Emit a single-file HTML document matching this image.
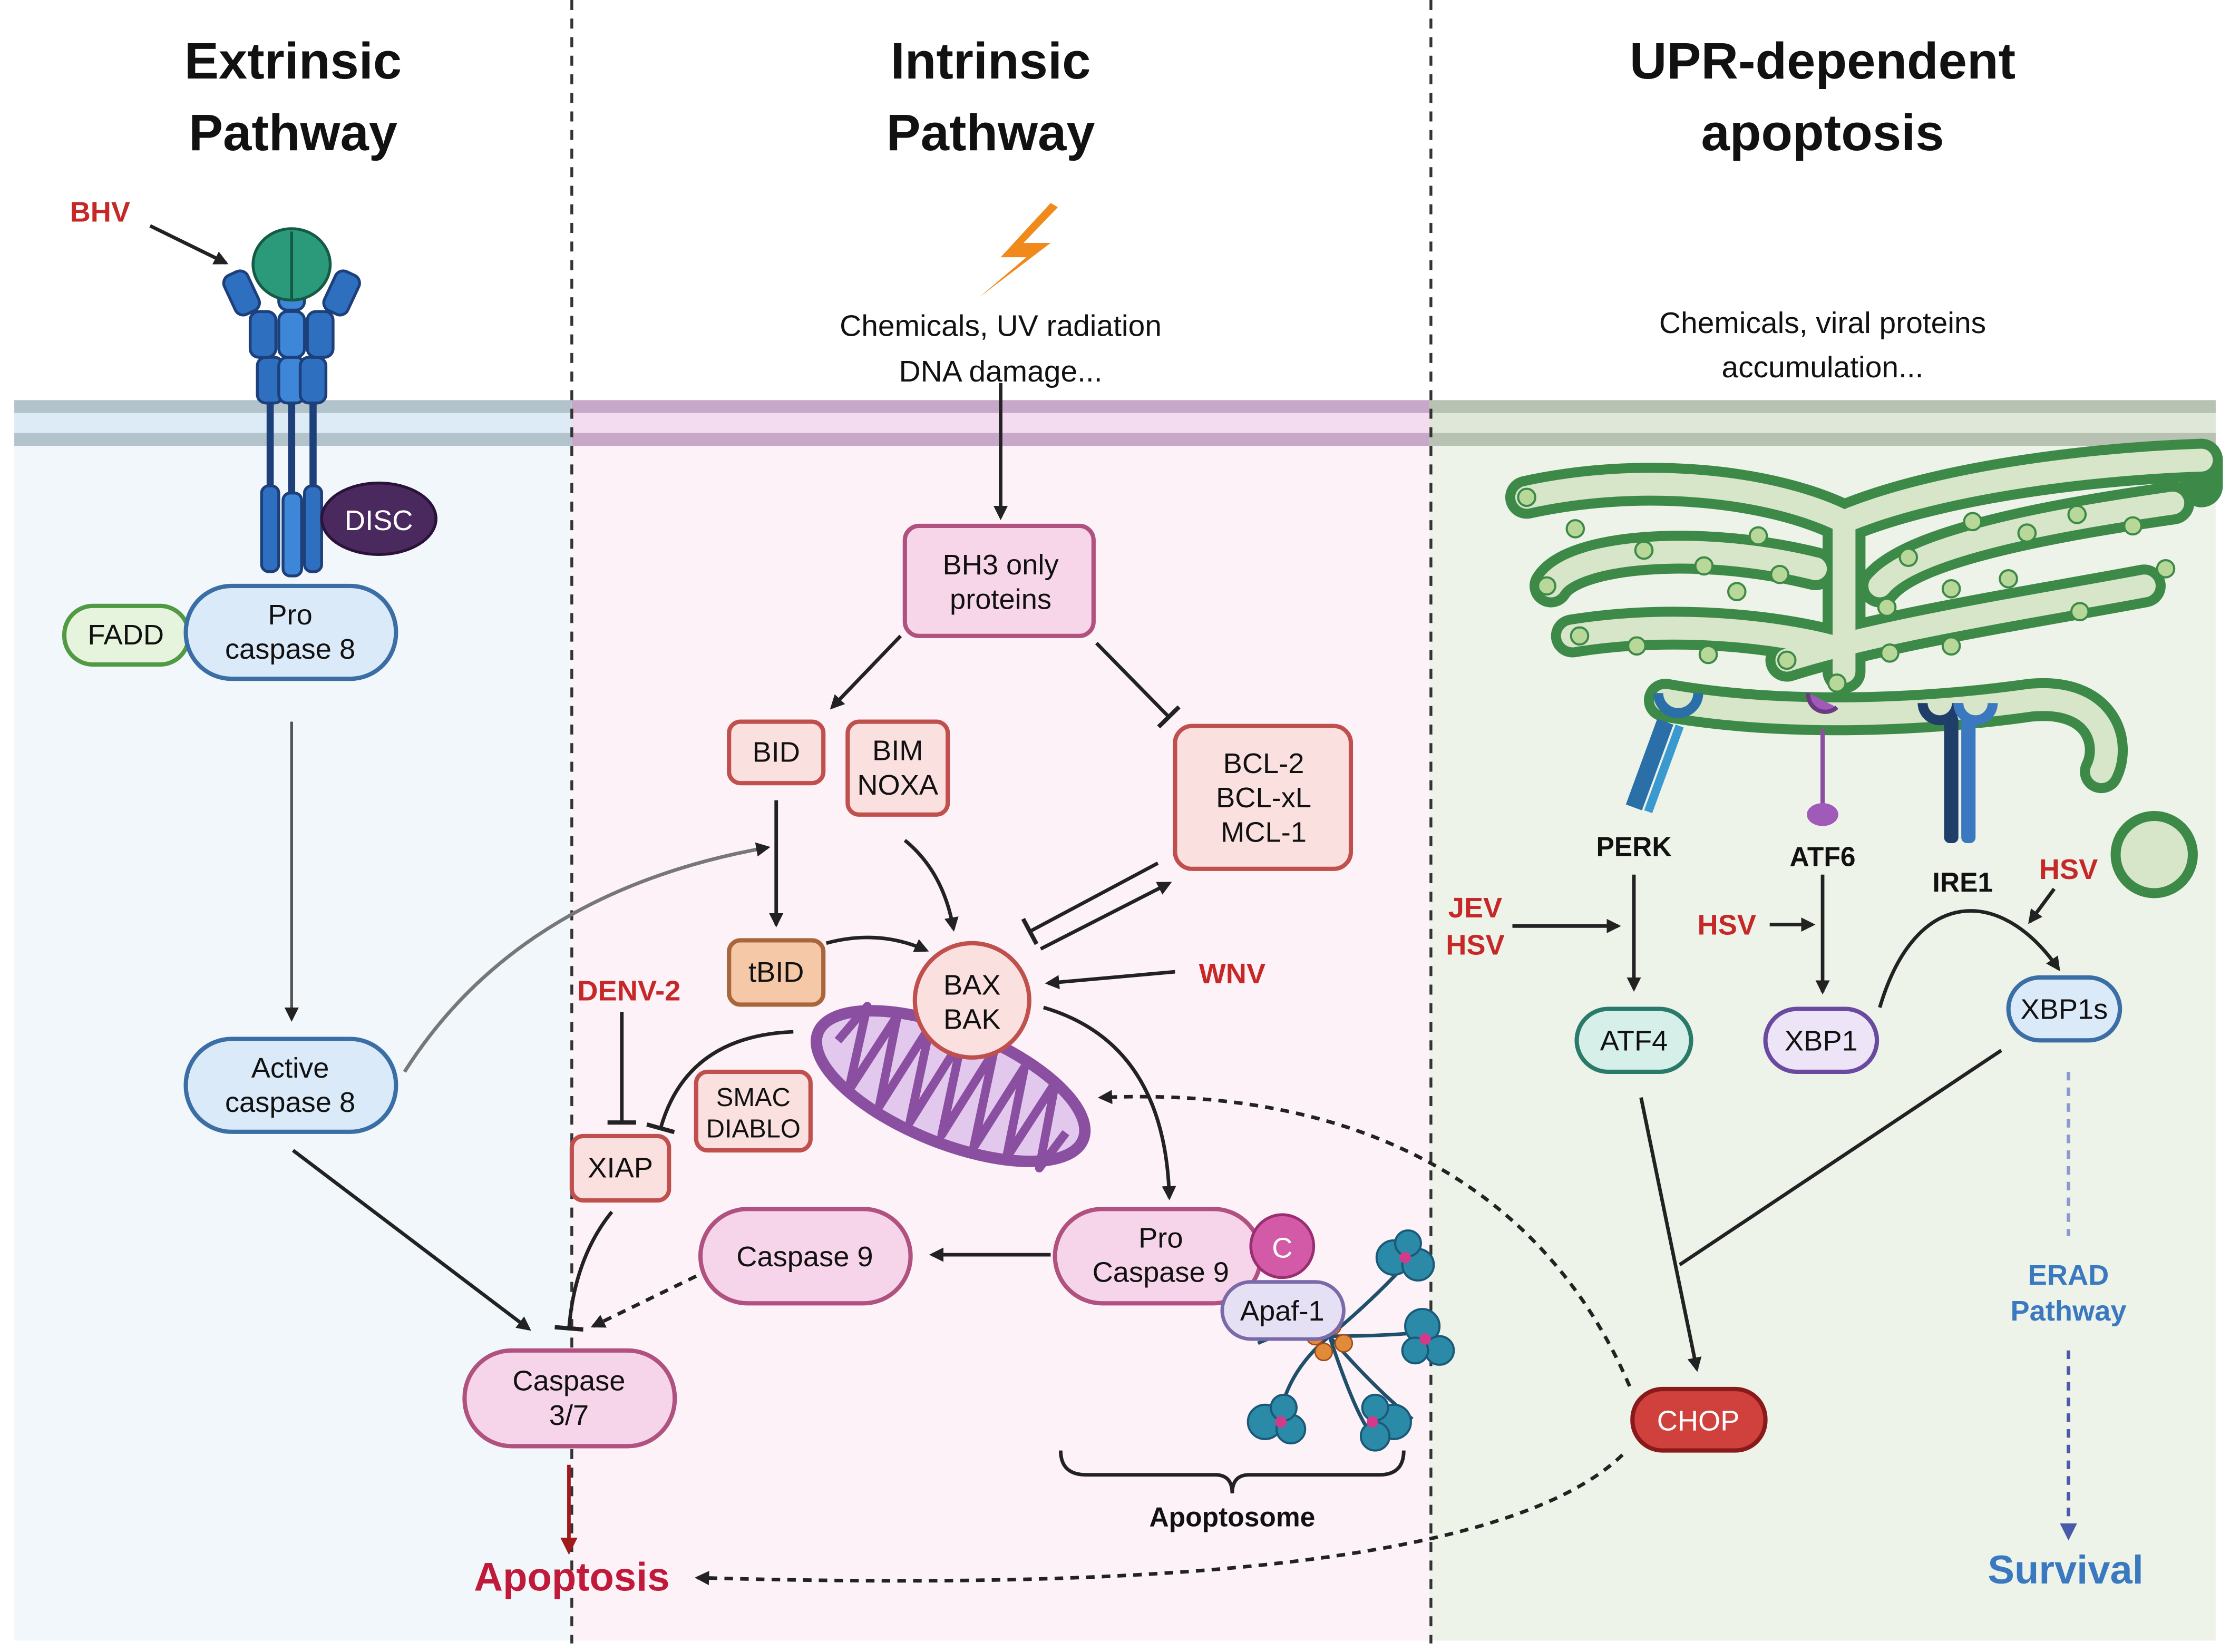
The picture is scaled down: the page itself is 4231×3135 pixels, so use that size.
<!DOCTYPE html>
<html><head><meta charset="utf-8">
<style>
html,body{margin:0;padding:0;background:#fff;}
svg{display:block;}
text{font-family:"Liberation Sans",Arial,sans-serif;}
</style></head>
<body>
<svg width="4231" height="3135" viewBox="0 0 1560 1156" preserveAspectRatio="none" xmlns="http://www.w3.org/2000/svg">
<defs>
<marker id="a" markerWidth="10" markerHeight="10" refX="8" refY="5" orient="auto" markerUnits="userSpaceOnUse"><path d="M0,0 L10,5 L0,10 z" fill="#222"/></marker>
<marker id="ar" markerWidth="12" markerHeight="12" refX="9" refY="6" orient="auto" markerUnits="userSpaceOnUse"><path d="M0,0 L12,6 L0,12 z" fill="#a01a1a"/></marker>
<marker id="ab" markerWidth="12" markerHeight="12" refX="9" refY="6" orient="auto" markerUnits="userSpaceOnUse"><path d="M0,0 L12,6 L0,12 z" fill="#4a5aa8"/></marker>
<marker id="t" markerWidth="4" markerHeight="20" refX="2" refY="10" orient="auto" markerUnits="userSpaceOnUse"><rect x="0" y="0" width="3" height="20" fill="#222"/></marker>
<linearGradient id="fadeL" x1="0" y1="0" x2="1" y2="0"><stop offset="0" stop-color="#ccc"/><stop offset="1" stop-color="#222"/></linearGradient>
</defs>

<!-- backgrounds -->
<rect x="10" y="312" width="390" height="836" fill="#f2f7fc"/>
<rect x="400" y="312" width="600" height="836" fill="#fdf2f8"/>
<rect x="1000" y="312" width="550" height="836" fill="#eef3ea"/>
<!-- membranes -->
<rect x="10" y="280" width="390" height="32" fill="#dcebf6"/>
<rect x="10" y="280" width="390" height="9" fill="#b3c3cc"/>
<rect x="10" y="303" width="390" height="9" fill="#b3c3cc"/>
<rect x="400" y="280" width="600" height="32" fill="#f3dcef"/>
<rect x="400" y="280" width="600" height="9" fill="#c8a8c8"/>
<rect x="400" y="303" width="600" height="9" fill="#c8a8c8"/>
<rect x="1000" y="280" width="550" height="32" fill="#dfe7d9"/>
<rect x="1000" y="280" width="550" height="9" fill="#b8c2b2"/>
<rect x="1000" y="303" width="550" height="9" fill="#b8c2b2"/>

<line x1="400" y1="0" x2="400" y2="1150" stroke="#333" stroke-width="2" stroke-dasharray="7,6"/>
<line x1="1001" y1="0" x2="1001" y2="1150" stroke="#333" stroke-width="2" stroke-dasharray="7,6"/>

<!-- titles -->
<g font-weight="bold" font-size="36" text-anchor="middle" fill="#111">
<text x="205" y="55">Extrinsic</text><text x="205" y="105">Pathway</text>
<text x="693" y="55">Intrinsic</text><text x="693" y="105">Pathway</text>
<text x="1275" y="55">UPR-dependent</text><text x="1275" y="105">apoptosis</text>
</g>

<!-- receptor -->
<g stroke="#1d3f7a" stroke-width="2" fill="#2f6fc0">
<rect x="183" y="340" width="12" height="60" rx="5"/>
<rect x="198" y="345" width="13" height="58" rx="5" fill="#3d86d8"/>
<rect x="213" y="340" width="12" height="60" rx="5"/>
<line x1="189" y1="280" x2="189" y2="340" stroke-width="5"/>
<line x1="204" y1="280" x2="204" y2="345" stroke-width="5"/>
<line x1="219" y1="280" x2="219" y2="340" stroke-width="5"/>
<rect x="180" y="250" width="18" height="32" rx="6"/>
<rect x="195" y="250" width="18" height="32" rx="6" fill="#3d86d8"/>
<rect x="210" y="250" width="18" height="32" rx="6"/>
<rect x="175" y="218" width="18" height="32" rx="6"/>
<rect x="195" y="218" width="18" height="32" rx="6" fill="#3d86d8"/>
<rect x="215" y="218" width="18" height="32" rx="6"/>
<rect x="160" y="190" width="18" height="30" rx="6" transform="rotate(-25 169 205)"/>
<rect x="230" y="190" width="18" height="30" rx="6" transform="rotate(25 239 205)"/>
<rect x="195" y="185" width="18" height="32" rx="6" fill="#3d86d8"/>
<ellipse cx="204" cy="185" rx="27" ry="25" fill="#2a9a7a" stroke="#155a45"/>
<line x1="204" y1="162" x2="204" y2="210" stroke="#155a45"/>
</g>
<text x="70" y="155" font-size="20" font-weight="bold" fill="#c62828" text-anchor="middle">BHV</text>
<line x1="105" y1="158" x2="158" y2="184" stroke="#222" stroke-width="2.5" marker-end="url(#a)"/>

<ellipse cx="265" cy="363" rx="40" ry="25" fill="#4a2a5e" stroke="#2a1238" stroke-width="2"/>
<text x="265" y="371" font-size="20" fill="#fff" text-anchor="middle">DISC</text>

<g font-size="20" text-anchor="middle" fill="#111">
<rect x="45" y="424" width="87" height="41" rx="20" fill="#e6f4dd" stroke="#4f9a43" stroke-width="3"/>
<text x="88" y="451">FADD</text>
<rect x="130" y="410" width="147" height="65" rx="32" fill="#dbeaf8" stroke="#3a6ea5" stroke-width="3"/>
<text x="203" y="437">Pro</text><text x="203" y="461">caspase 8</text>
<rect x="130" y="727" width="147" height="65" rx="32" fill="#dbeaf8" stroke="#3a6ea5" stroke-width="3"/>
<text x="203" y="754">Active</text><text x="203" y="778">caspase 8</text>
<rect x="325" y="945" width="147" height="67" rx="33" fill="#f6d5ea" stroke="#b0517f" stroke-width="3"/>
<text x="398" y="973">Caspase</text><text x="398" y="997">3/7</text>
</g>
<text x="400" y="1113" font-size="28" font-weight="bold" fill="#c0193a" text-anchor="middle">Apoptosis</text>

<!-- extrinsic arrows -->
<line x1="204" y1="505" x2="204" y2="713" stroke="url(#fadeL)" stroke-width="2.5"/>
<line x1="204" y1="505" x2="204" y2="713" stroke="#555" stroke-width="2" marker-end="url(#a)"/>
<path d="M283,750 C340,660 430,612 537,593" fill="none" stroke="#777" stroke-width="2.5" marker-end="url(#a)"/>
<line x1="205" y1="805" x2="370" y2="930" stroke="#222" stroke-width="2.5" marker-end="url(#a)"/>
<line x1="398" y1="1025" x2="398" y2="1085" stroke="#a01a1a" stroke-width="2.5" marker-end="url(#ar)"/>

<!-- intrinsic -->
<path d="M735,142 L700,180 L718,180 L685,208 L735,170 L716,170 L740,145 z" fill="#f08a1c"/>
<g font-size="21" text-anchor="middle" fill="#111">
<text x="700" y="235">Chemicals, UV radiation</text><text x="700" y="267">DNA damage...</text>
<text x="1275" y="233">Chemicals, viral proteins</text><text x="1275" y="264">accumulation...</text>
</g>
<line x1="700" y1="268" x2="700" y2="362" stroke="#222" stroke-width="2.5" marker-end="url(#a)"/>

<g font-size="20" text-anchor="middle" fill="#111">
<rect x="633" y="368" width="132" height="77" rx="10" fill="#f7d6ea" stroke="#b0517f" stroke-width="3"/>
<text x="700" y="402">BH3 only</text><text x="700" y="426">proteins</text>
<rect x="510" y="505" width="66" height="43" rx="8" fill="#fbe0e0" stroke="#c0504d" stroke-width="3"/>
<text x="543" y="533">BID</text>
<rect x="593" y="505" width="70" height="65" rx="8" fill="#fbe0e0" stroke="#c0504d" stroke-width="3"/>
<text x="628" y="532">BIM</text><text x="628" y="556">NOXA</text>
<rect x="822" y="508" width="123" height="100" rx="12" fill="#fbe0e0" stroke="#c0504d" stroke-width="3"/>
<text x="884" y="541">BCL-2</text><text x="884" y="565">BCL-xL</text><text x="884" y="589">MCL-1</text>
<rect x="510" y="658" width="66" height="45" rx="8" fill="#f5c9a8" stroke="#a8663a" stroke-width="3"/>
<text x="543" y="687">tBID</text>
</g>

<!-- mitochondria -->
<g transform="rotate(22 665 760)">
<ellipse cx="665" cy="760" rx="100" ry="40" fill="#e2c8ec" stroke="#8a4fa0" stroke-width="8"/>
<path d="M580,760 L590,730 L600,790 L612,728 L624,792 L636,726 L648,794 L660,726 L672,794 L684,726 L696,794 L708,728 L720,792 L732,730 L744,790 L752,760" fill="none" stroke="#8a4fa0" stroke-width="6" stroke-linejoin="round"/>
</g>

<circle cx="680" cy="700" r="40" fill="#fbe0e0" stroke="#c0504d" stroke-width="3"/>
<g font-size="20" text-anchor="middle" fill="#111">
<text x="680" y="696">BAX</text><text x="680" y="720">BAK</text>
<rect x="487" y="750" width="80" height="55" rx="8" fill="#fbe0e0" stroke="#c0504d" stroke-width="3"/>
<text x="527" y="774" font-size="18">SMAC</text><text x="527" y="796" font-size="18">DIABLO</text>
<rect x="400" y="795" width="68" height="45" rx="8" fill="#fbe0e0" stroke="#c0504d" stroke-width="3"/>
<text x="434" y="824">XIAP</text>
<rect x="490" y="846" width="147" height="66" rx="33" fill="#f6d5ea" stroke="#b0517f" stroke-width="3"/>
<text x="563" y="886">Caspase 9</text>
<rect x="738" y="846" width="144" height="66" rx="33" fill="#f6d5ea" stroke="#b0517f" stroke-width="3"/>
<text x="812" y="873">Pro</text><text x="812" y="897">Caspase 9</text>
</g>
<circle cx="897" cy="872" r="22" fill="#d35aa6" stroke="#9a2e72" stroke-width="2"/>
<text x="897" y="880" font-size="20" fill="#fff" text-anchor="middle">C</text>

<!-- apoptosome -->
<g stroke="#1f4f6a" stroke-width="2.5" fill="none">
<path d="M930,935 Q960,910 983,885"/><path d="M930,935 Q970,935 997,932"/>
<path d="M930,935 Q960,970 988,993"/><path d="M930,935 Q945,980 955,997"/>
<path d="M930,935 Q900,960 895,993"/><path d="M930,935 Q900,930 880,940"/>
</g>
<g fill="#2a8aa8" stroke="#1a5a78" stroke-width="1.5">
<circle cx="975" cy="880" r="12"/><circle cx="992" cy="885" r="11"/><circle cx="985" cy="870" r="9"/>
<circle cx="995" cy="928" r="12"/><circle cx="1007" cy="945" r="10"/><circle cx="990" cy="945" r="9"/>
<circle cx="975" cy="995" r="12"/><circle cx="962" cy="1005" r="10"/><circle cx="962" cy="985" r="9"/>
<circle cx="885" cy="995" r="12"/><circle cx="903" cy="1000" r="10"/><circle cx="898" cy="985" r="9"/>
</g>
<g fill="#d33a8a"><circle cx="983" cy="880" r="4"/><circle cx="997" cy="937" r="4"/><circle cx="960" cy="995" r="4"/><circle cx="896" cy="995" r="4"/></g>
<g fill="#e08a3a" stroke="#a04a1a" stroke-width="1"><circle cx="920" cy="935" r="6"/><circle cx="932" cy="928" r="6"/><circle cx="940" cy="940" r="6"/><circle cx="926" cy="946" r="6"/></g>
<rect x="855" y="897" width="85" height="40" rx="20" fill="#e6e0f5" stroke="#7a6aaa" stroke-width="2.5"/>
<text x="897" y="924" font-size="20" fill="#111" text-anchor="middle">Apaf-1</text>
<path d="M742,1015 Q742,1032 760,1032 L850,1032 Q862,1032 862,1045 Q862,1032 874,1032 L965,1032 Q982,1032 982,1015" fill="none" stroke="#222" stroke-width="2.5"/>
<text x="862" y="1068" font-size="19" font-weight="bold" fill="#111" text-anchor="middle">Apoptosome</text>

<!-- intrinsic arrows -->
<g stroke="#222" stroke-width="2.5" fill="none">
<line x1="630" y1="445" x2="582" y2="495" marker-end="url(#a)"/>
<line x1="767" y1="450" x2="818" y2="502" marker-end="url(#t)"/>
<line x1="543" y1="560" x2="543" y2="647" marker-end="url(#a)"/>
<path d="M633,588 Q660,610 667,650" marker-end="url(#a)"/>
<path d="M578,660 Q615,650 648,665" marker-end="url(#a)"/>
<line x1="728" y1="664" x2="818" y2="618" marker-end="url(#a)"/>
<line x1="810" y1="604" x2="720" y2="652" marker-end="url(#t)"/>
<line x1="822" y1="680" x2="733" y2="688" marker-end="url(#a)"/>
<line x1="435" y1="708" x2="435" y2="786" marker-end="url(#t)"/>
<path d="M555,722 Q480,725 462,790" marker-end="url(#t)"/>
<path d="M428,848 Q402,880 398,930" marker-end="url(#t)"/>
<line x1="487" y1="893" x2="415" y2="928" stroke-dasharray="6,5" marker-end="url(#a)"/>
<path d="M730,705 Q815,730 818,838" marker-end="url(#a)"/>
<line x1="735" y1="878" x2="652" y2="878" marker-end="url(#a)"/>
<path d="M1140,970 C1080,830 950,760 770,768" stroke-dasharray="6,5" marker-end="url(#a)"/>
<path d="M1135,1018 C1040,1110 700,1110 488,1104" stroke-dasharray="6,5" marker-end="url(#a)"/>
</g>
<g font-size="20" font-weight="bold" fill="#c62828" text-anchor="middle">
<text x="440" y="700">DENV-2</text><text x="862" y="688">WNV</text>
</g>

<!-- ER -->
<g fill="none" stroke-linecap="round" stroke-linejoin="round">
<g stroke="#3d8a48" stroke-width="30">
<path d="M1068,348 C1150,330 1240,340 1290,365 C1350,340 1450,325 1540,322"/>
<path d="M1085,410 C1100,385 1190,378 1270,398"/>
<path d="M1315,410 C1340,380 1450,362 1520,352"/>
<path d="M1100,445 C1180,432 1260,445 1290,455"/>
<path d="M1250,462 C1320,440 1420,425 1500,410"/>
<path d="M1290,365 L1290,470"/>
<path d="M1165,490 C1250,505 1350,500 1420,490 C1470,485 1480,520 1470,540"/>
<path d="M1540,322 L1540,340"/>
</g>
<g stroke="#d7e5c9" stroke-width="16">
<path d="M1068,348 C1150,330 1240,340 1290,365 C1350,340 1450,325 1540,322"/>
<path d="M1085,410 C1100,385 1190,378 1270,398"/>
<path d="M1315,410 C1340,380 1450,362 1520,352"/>
<path d="M1100,445 C1180,432 1260,445 1290,455"/>
<path d="M1250,462 C1320,440 1420,425 1500,410"/>
<path d="M1290,365 L1290,470"/>
<path d="M1165,490 C1250,505 1350,500 1420,490 C1470,485 1480,520 1470,540"/>
</g>
</g>
<g fill="#b8d89a" stroke="#3d8a48" stroke-width="1.5">
<circle cx="1068" cy="348" r="6"/><circle cx="1102" cy="370" r="6"/><circle cx="1150" cy="385" r="6"/><circle cx="1192" cy="396" r="6"/><circle cx="1230" cy="375" r="6"/>
<circle cx="1082" cy="410" r="6"/><circle cx="1105" cy="445" r="6"/><circle cx="1145" cy="452" r="6"/><circle cx="1215" cy="414" r="6"/><circle cx="1245" cy="402" r="6"/>
<circle cx="1335" cy="390" r="6"/><circle cx="1380" cy="365" r="6"/><circle cx="1418" cy="373" r="6"/><circle cx="1453" cy="360" r="6"/><circle cx="1492" cy="368" r="6"/>
<circle cx="1320" cy="425" r="6"/><circle cx="1365" cy="412" r="6"/><circle cx="1405" cy="405" r="6"/><circle cx="1455" cy="428" r="6"/><circle cx="1515" cy="398" r="6"/>
<circle cx="1250" cy="462" r="6"/><circle cx="1285" cy="478" r="6"/><circle cx="1322" cy="457" r="6"/><circle cx="1365" cy="452" r="6"/><circle cx="1195" cy="458" r="6"/>
</g>
<circle cx="1507" cy="598" r="27" fill="#d7e5c9" stroke="#3d8a48" stroke-width="7"/>

<!-- UPR sensors -->
<g>
<line x1="1165" y1="505" x2="1143" y2="565" stroke="#2a6fa8" stroke-width="12"/>
<line x1="1175" y1="508" x2="1153" y2="568" stroke="#3a9ad0" stroke-width="6"/>
<path d="M1160,485 a14,14 0 1,0 28,0" fill="none" stroke="#2a6fa8" stroke-width="7"/>
<line x1="1275" y1="510" x2="1275" y2="565" stroke="#8a4fa0" stroke-width="3"/>
<path d="M1265,485 a12,12 0 0,0 20,10" fill="#a05ab8" stroke="#6a3a80" stroke-width="3"/>
<ellipse cx="1275" cy="570" rx="11" ry="8" fill="#a05ab8"/>
<rect x="1360" y="500" width="10" height="90" rx="4" fill="#1f3f6a"/>
<rect x="1372" y="500" width="10" height="90" rx="4" fill="#3a78c0"/>
<path d="M1345,492 a12,12 0 0,0 24,0" fill="none" stroke="#1f3f6a" stroke-width="7"/>
<path d="M1370,492 a12,12 0 0,0 24,0" fill="none" stroke="#3a78c0" stroke-width="7"/>
</g>
<g font-size="19" font-weight="bold" fill="#111" text-anchor="middle">
<text x="1143" y="599">PERK</text><text x="1275" y="606">ATF6</text><text x="1373" y="624">IRE1</text>
</g>
<g font-size="20" font-weight="bold" fill="#c62828" text-anchor="middle">
<text x="1032" y="642">JEV</text><text x="1032" y="668">HSV</text><text x="1208" y="654">HSV</text><text x="1447" y="615">HSV</text>
</g>

<g font-size="20" text-anchor="middle">
<rect x="1103" y="706" width="80" height="44" rx="22" fill="#d6efe8" stroke="#2a7a6a" stroke-width="3"/>
<text x="1143" y="735" fill="#111">ATF4</text>
<rect x="1235" y="706" width="78" height="44" rx="22" fill="#ede4f7" stroke="#6a4aa0" stroke-width="3"/>
<text x="1274" y="735" fill="#111">XBP1</text>
<rect x="1405" y="684" width="78" height="44" rx="22" fill="#dbeaf8" stroke="#3a6ea5" stroke-width="3"/>
<text x="1444" y="713" fill="#111">XBP1s</text>
<rect x="1142" y="972" width="93" height="43" rx="21" fill="#d0413d" stroke="#8a1a1a" stroke-width="3"/>
<text x="1188" y="1001" fill="#fff">CHOP</text>
</g>
<g stroke="#222" stroke-width="2.5" fill="none">
<line x1="1143" y1="612" x2="1143" y2="692" marker-end="url(#a)"/>
<line x1="1058" y1="648" x2="1132" y2="648" marker-end="url(#a)"/>
<line x1="1238" y1="647" x2="1268" y2="647" marker-end="url(#a)"/>
<line x1="1275" y1="612" x2="1275" y2="694" marker-end="url(#a)"/>
<path d="M1315,705 C1340,620 1400,620 1440,678" marker-end="url(#a)"/>
<line x1="1437" y1="622" x2="1420" y2="645" marker-end="url(#a)"/>
<line x1="1148" y1="768" x2="1187" y2="958" marker-end="url(#a)"/>
<line x1="1400" y1="735" x2="1175" y2="885"/>
</g>
<g stroke="#4a5aa8" stroke-width="2.5" fill="none" stroke-dasharray="6,5">
<line x1="1447" y1="750" x2="1447" y2="865" stroke="#8a9ad0"/>
<line x1="1447" y1="945" x2="1447" y2="1075" marker-end="url(#ab)"/>
</g>
<text x="1447" y="899" font-size="20" font-weight="bold" fill="#3a78c0" text-anchor="middle">ERAD</text>
<text x="1447" y="924" font-size="20" font-weight="bold" fill="#3a78c0" text-anchor="middle">Pathway</text>
<text x="1445" y="1108" font-size="28" font-weight="bold" fill="#3a78c0" text-anchor="middle">Survival</text>
</svg>
</body></html>
